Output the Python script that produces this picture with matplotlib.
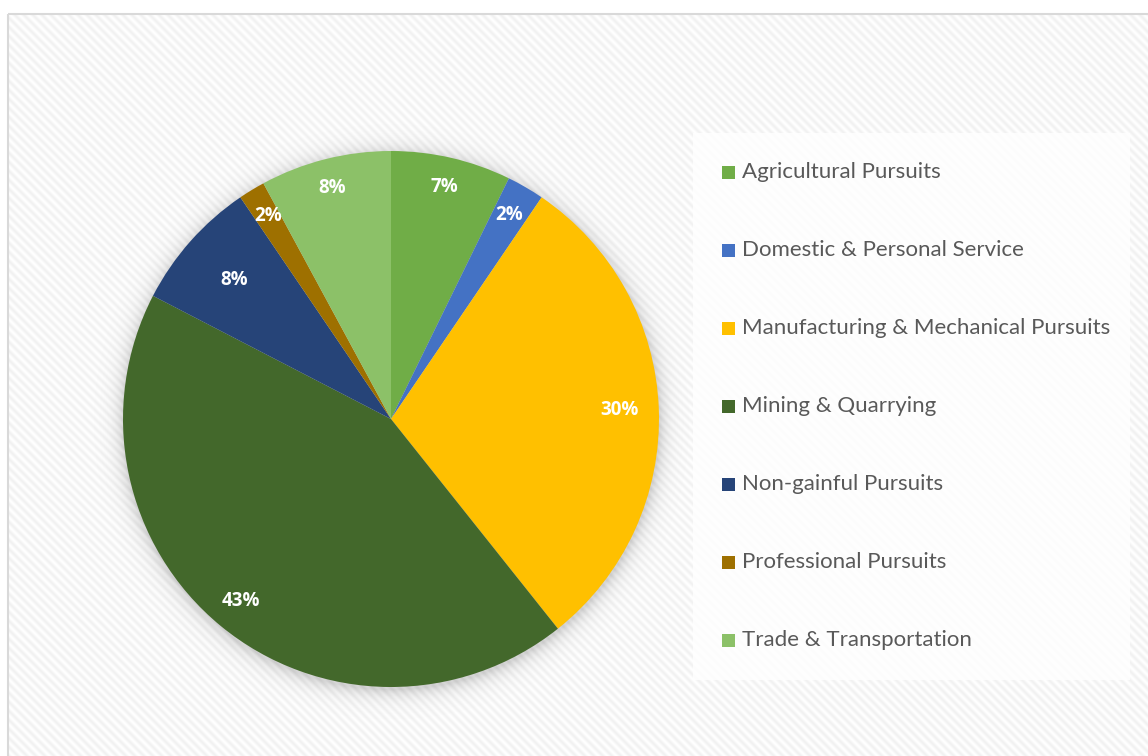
import matplotlib.pyplot as plt
from matplotlib.patches import Rectangle
import numpy as np

categories = ['Agricultural Pursuits', 'Domestic & Personal Service',
              'Manufacturing & Mechanical Pursuits', 'Mining & Quarrying',
              'Non-gainful Pursuits', 'Professional Pursuits', 'Trade & Transportation']
shares = [7.25, 2.25, 29.8, 43.3, 7.9, 1.6, 7.9]
colors = ['#70AD47', '#4472C4', '#FFC000', '#43682B', '#264478', '#9E7000', '#8CC168']
label_radius = [0.89, 0.88, 0.855, 0.88, 0.78, 0.885, 0.89]

W, H = 1148, 756
plt.rcParams['font.family'] = ['Lato', 'DejaVu Sans']

fig = plt.figure(figsize=(W / 100, H / 100), dpi=100)

# striped chart background
bg = fig.add_axes([0, 0, 1, 1])
yy, xx = np.mgrid[0:H, 0:W]
stripes = 0.5 + 0.5 * np.cos(2 * np.pi * (xx - yy) / 9.0)
img = 0.995 - 0.05 * stripes
img[:14, :] = 1.0
img[:, :8] = 1.0
bg.imshow(img, cmap='gray', vmin=0, vmax=1, extent=[0, W, H, 0], interpolation='bilinear')
bg.add_patch(Rectangle((8, 14), W, H, fill=False, edgecolor='#d9d9d9', linewidth=1.5))
bg.set_xlim(0, W)
bg.set_ylim(H, 0)
bg.axis('off')

# legend panel
bg.add_patch(Rectangle((693, 133), 437, 547, facecolor='white', alpha=0.8, edgecolor='none'))

cx, cy, r = 391, 419, 268
ax = fig.add_axes([(cx - r) / W, (H - cy - r) / H, 2 * r / W, 2 * r / H])

# soft shadow under the pie
g = np.linspace(-1.15, 1.15, 600)
gx, gy = np.meshgrid(g, g)
d = np.hypot(gx, gy + 0.012)
alpha = np.where(d > 1, 0.16 * np.exp(-(d - 1) / 0.03), 0.16)
shadow = np.zeros((600, 600, 4))
shadow[..., 3] = alpha
ax.imshow(shadow, extent=[-1.15, 1.15, -1.15, 1.15], origin='lower', zorder=0, clip_on=False)

wedges, _ = ax.pie(shares, colors=colors, startangle=90, counterclock=False,
                   wedgeprops=dict(linewidth=0))
for w in wedges:
    w.set_zorder(2)

total = sum(shares)
cum = 0
for val, rr in zip(shares, label_radius):
    mid = (cum + val / 2) / total * 2 * np.pi
    cum += val
    ax.text(rr * np.sin(mid), rr * np.cos(mid), f'{val / total * 100:.0f}%',
            ha='center', va='center', color='white', fontsize=13.5, fontweight='bold',
            family=['Open Sans', 'DejaVu Sans'], zorder=3)
ax.set_xlim(-1, 1)
ax.set_ylim(-1, 1)
ax.axis('off')

# legend entries
for i, (name, c) in enumerate(zip(categories, colors)):
    y = 172 + i * 78
    bg.add_patch(Rectangle((722, y - 6.5), 13, 13, facecolor=c, edgecolor='none'))
    bg.text(742, y, name, ha='left', va='center', color='#595959', fontsize=16)

fig.savefig('out.png', dpi=100)
